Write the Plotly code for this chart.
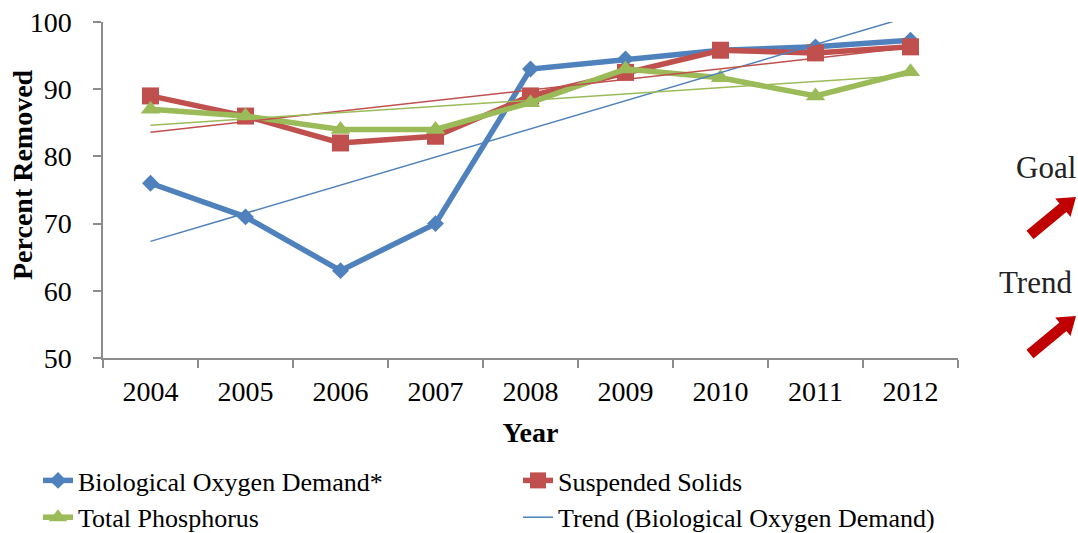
import numpy as np
import plotly.graph_objects as go

years = ["2004", "2005", "2006", "2007", "2008", "2009", "2010", "2011", "2012"]
bod = [76, 71, 63, 70, 93, 94.5, 95.8, 96.3, 97.3]
ss = [89, 86, 82, 83, 89, 92.5, 95.8, 95.4, 96.3]
tp = [87, 86, 84, 84, 88, 93, 91.7, 89, 92.6]

C_BOD = "#4f81bd"
C_SS = "#c0504d"
C_TP = "#9bbb59"
ARROW = "#c00000"
SERIF = "Liberation Serif, Times New Roman, serif"

# body margin is removed in the page, so the figure sits at (0, 0)
OFF = 0
W, H = 1078, 533
L, R, T, B = 103, 120, 22, 175
PW, PH = W - L - R, H - T - B


def px(x, y):
    """page pixel -> paper coordinates"""
    return (x - OFF - L) / PW, (H - B - (y - OFF)) / PH


def trend(vals):
    idx = np.arange(len(vals))
    m, c = np.polyfit(idx, vals, 1)
    return list(m * idx + c)


fig = go.Figure()
fig.add_trace(go.Scatter(x=years, y=bod, name="Biological Oxygen Demand*", mode="lines+markers",
                         line=dict(color=C_BOD, width=5.5), marker=dict(symbol="diamond", size=13, color=C_BOD),
                         legend="legend", legendgroup="a"))
fig.add_trace(go.Scatter(x=years, y=ss, name="Suspended Solids", mode="lines+markers",
                         line=dict(color=C_SS, width=5.5), marker=dict(symbol="square", size=17, color=C_SS),
                         legend="legend2", legendgroup="c"))
fig.add_trace(go.Scatter(x=years, y=tp, name="Total Phosphorus", mode="lines+markers",
                         line=dict(color=C_TP, width=5.5), marker=dict(symbol="triangle-up", size=17, color=C_TP),
                         legend="legend", legendgroup="b"))
fig.add_trace(go.Scatter(x=years, y=trend(bod), name="Trend (Biological Oxygen Demand)", mode="lines",
                         line=dict(color=C_BOD, width=1.5), legend="legend2", legendgroup="d"))
fig.add_trace(go.Scatter(x=years, y=trend(ss), name="Trend (Suspended Solids)", mode="lines",
                         line=dict(color=C_SS, width=1.5), showlegend=False))
fig.add_trace(go.Scatter(x=years, y=trend(tp), name="Trend (Total Phosphorus)", mode="lines",
                         line=dict(color=C_TP, width=1.5), showlegend=False))


def arrow_path(tail, tip, w=5.5, h=12, hl=17):
    tx, ty = tail
    px_, py_ = tip
    dx, dy = px_ - tx, py_ - ty
    d = (dx * dx + dy * dy) ** 0.5
    ux, uy = dx / d, dy / d
    nx, ny = -uy, ux
    bx, by = px_ - ux * hl, py_ - uy * hl
    pts = [(tx + nx * w, ty + ny * w), (bx + nx * w, by + ny * w), (bx + nx * h, by + ny * h),
           (px_, py_), (bx - nx * h, by - ny * h), (bx - nx * w, by - ny * w), (tx - nx * w, ty - ny * w)]
    pp = [px(x, y) for x, y in pts]
    return "M " + " L ".join(f"{a:.4f},{b:.4f}" for a, b in pp) + " Z"


shapes = [
    dict(type="path", xref="paper", yref="paper", path=arrow_path((1030, 235), (1076, 197)),
         fillcolor=ARROW, line=dict(width=0)),
    dict(type="path", xref="paper", yref="paper", path=arrow_path((1030, 354), (1076, 316)),
         fillcolor=ARROW, line=dict(width=0)),
]

gx, gy = px(1046, 167)
tx_, ty_ = px(1035, 282)
yx, yy = px(22, 175)
annotations = [
    dict(text="Goal", x=gx, y=gy, xref="paper", yref="paper", showarrow=False,
         xanchor="center", yanchor="middle", font=dict(family=SERIF, size=31, color="#222")),
    dict(text="Trend", x=tx_, y=ty_, xref="paper", yref="paper", showarrow=False,
         xanchor="center", yanchor="middle", font=dict(family=SERIF, size=31, color="#222")),
    dict(text="<b>Percent Removed</b>", x=yx, y=yy, xref="paper", yref="paper", showarrow=False,
         xanchor="center", yanchor="middle", textangle=-90,
         font=dict(family=SERIF, size=28, color="#000")),
]

l1x, l1y = px(38, 457)
l2x, l2y = px(518, 457)
leg_common = dict(orientation="v", xanchor="left", yanchor="top", traceorder="grouped", tracegroupgap=0,
                  font=dict(family=SERIF, size=26, color="#000"), bgcolor="rgba(0,0,0,0)")

fig.update_layout(
    width=W, height=H,
    margin=dict(l=L, r=R, t=T, b=B, autoexpand=False),
    paper_bgcolor="white", plot_bgcolor="white",
    font=dict(family=SERIF, size=26, color="#000"),
    showlegend=True,
    legend=dict(x=l1x, y=l1y, **leg_common),
    legend2=dict(x=l2x, y=l2y, **leg_common),
    xaxis=dict(type="category", range=[-0.5, 8.5], showline=True, linecolor="#8c8c8c", linewidth=1.5,
               ticks="outside", ticklen=8, tickcolor="#8c8c8c", tickwidth=1.5, tickson="boundaries",
               showgrid=False, zeroline=False, tickfont=dict(family=SERIF, size=28),
               ticklabelstandoff=8, ticklabeloverflow="allow",
               title=dict(text="<b>Year</b>", font=dict(family=SERIF, size=28), standoff=16)),
    yaxis=dict(range=[50, 100], dtick=10, showline=True, linecolor="#8c8c8c", linewidth=1.5,
               ticks="outside", ticklen=8, tickcolor="#8c8c8c", tickwidth=1.5,
               showgrid=False, zeroline=False, tickfont=dict(family=SERIF, size=28),
               ticklabelstandoff=16, ticklabeloverflow="allow"),
    shapes=shapes,
    annotations=annotations,
)

fig.write_html("out.html", config={"displayModeBar": False},
               post_script="document.body.style.margin='0';document.body.style.padding='0';"
                           "document.body.style.overflow='hidden';")
